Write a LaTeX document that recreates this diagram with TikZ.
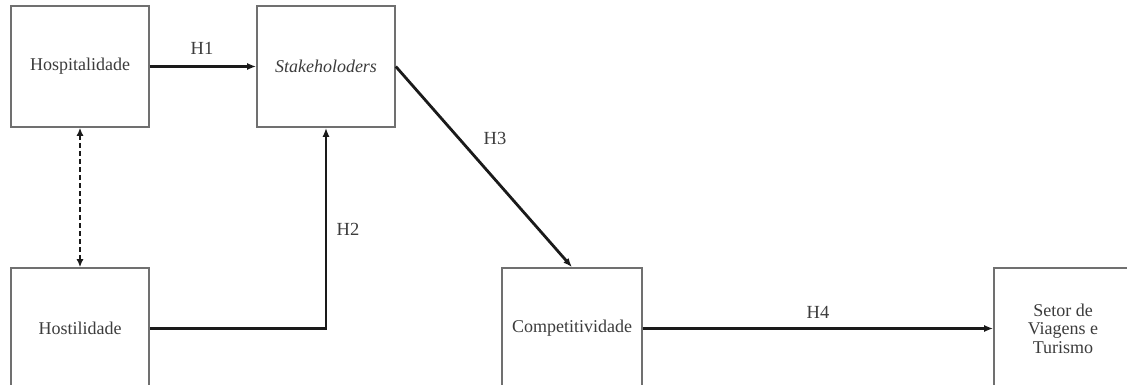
\documentclass[tikz,border=0pt]{standalone}
\usepackage{fontspec}
\setmainfont{Liberation Serif}
\usetikzlibrary{arrows.meta}
\definecolor{boxline}{HTML}{707070}
\definecolor{boxtext}{HTML}{3C3C3C}
\definecolor{arrowcol}{HTML}{1A1A1A}
\tikzset{
  varbox/.style={draw=boxline, line width=1.6pt, minimum width=138pt, minimum height=121pt,
    inner sep=0pt, align=center, text=boxtext, font=\fontsize{18}{18.5}\selectfont},
  hyp/.style={-{Latex[length=9pt,width=7pt]}, draw=arrowcol, line width=2.8pt},
  assoc/.style={{Latex[length=8pt,width=7pt]}-{Latex[length=8pt,width=7pt]}, draw=arrowcol,
    line width=2.2pt, dash pattern=on 5pt off 3pt},
  hlabel/.style={text=arrowcol!85, font=\fontsize{18.5}{20}\selectfont, inner sep=0pt}
}
\begin{document}
\begin{tikzpicture}[x=1pt,y=1pt]
\useasboundingbox (0,0) rectangle (1127,-385);
\clip (0,0) rectangle (1127,-385);
\fill[white] (0,0) rectangle (1127,-385);
% boxes
\node[varbox] (hosp) at (80,-66.5) {Hospitalidade};
\node[varbox] (stake) at (326,-66.5) {\textit{Stakeholoders}};
\node[varbox] (host) at (80,-328.5) {Hostilidade};
\node[varbox, minimum width=140pt] (comp) at (572,-328.5) {Competitividade};
\node[varbox] (setor) at (1063,-328.5) {Setor de\\Viagens e\\Turismo};
% connectors
\draw[hyp] (hosp.east) -- (stake.west);
\draw[hyp] (host.east) -| (stake.south);
\draw[hyp] (stake.east) -- (comp.north);
\draw[hyp] (comp.east) -- (setor.west);
\draw[assoc] (hosp.south) -- (host.north);
% labels
\node[hlabel] (h1) at (202,-48) {H1};
\node[hlabel] (h2) at (348,-229) {H2};
\node[hlabel] (h3) at (495,-138) {H3};
\node[hlabel] (h4) at (818,-312) {H4};
\end{tikzpicture}
\end{document}
